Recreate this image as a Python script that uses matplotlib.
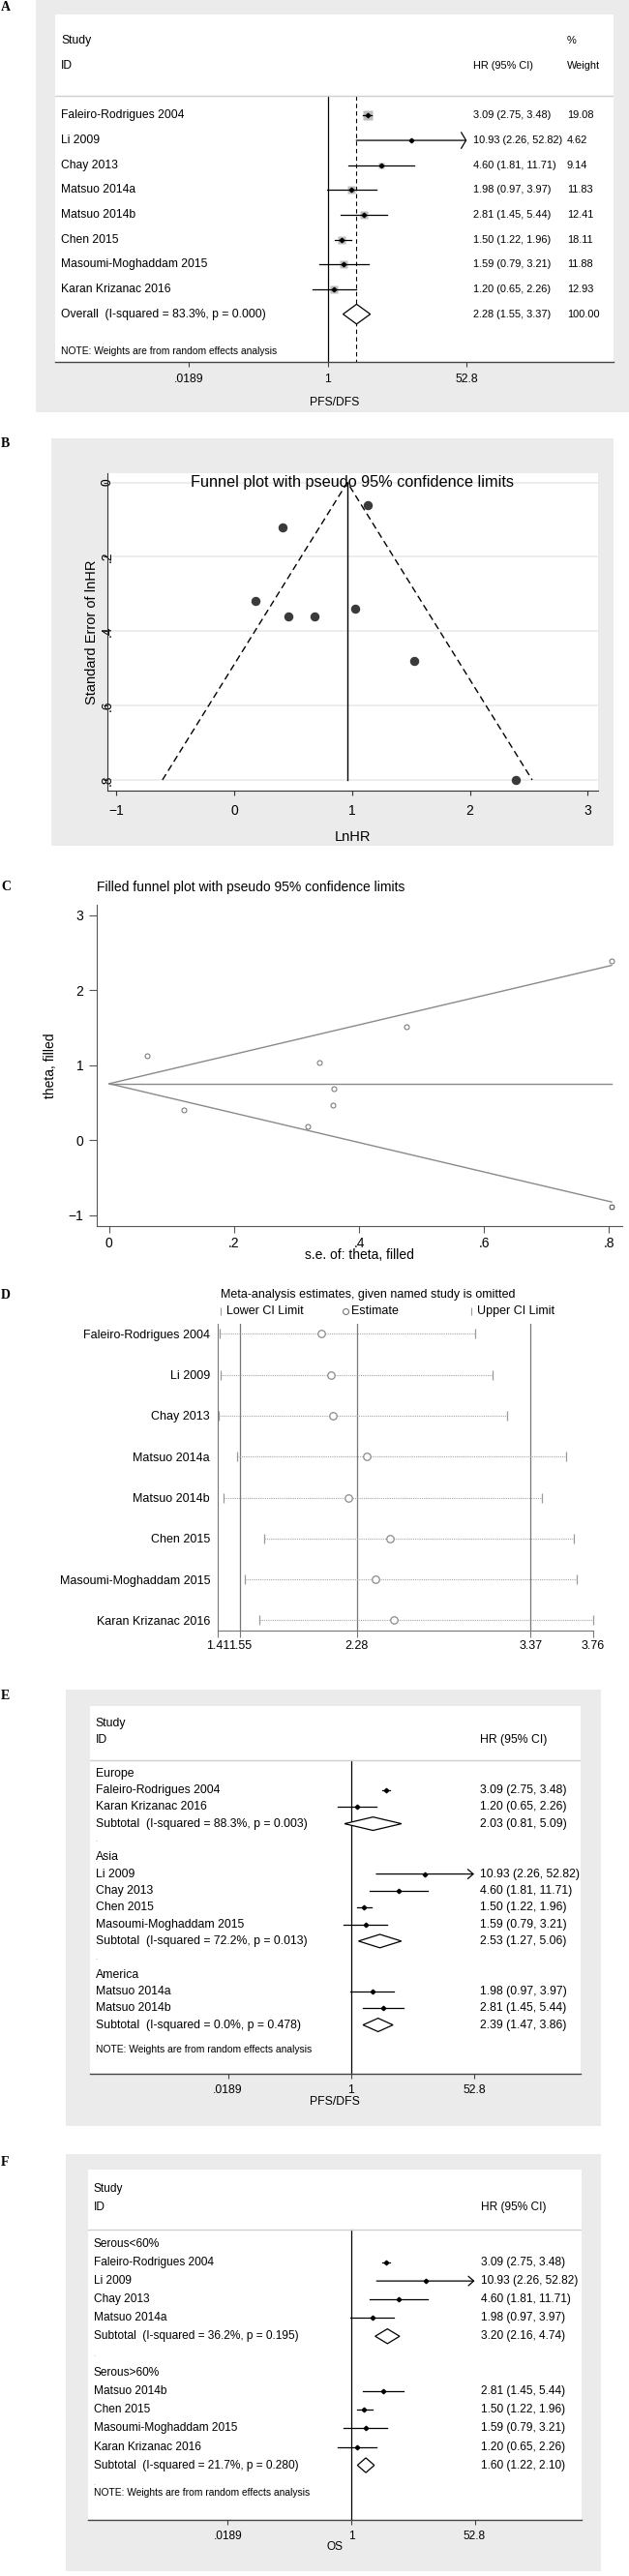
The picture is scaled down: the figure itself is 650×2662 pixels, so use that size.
import numpy as np
import matplotlib.pyplot as plt
from matplotlib.patches import Rectangle, Polygon
from matplotlib.ticker import FixedLocator, NullLocator, FuncFormatter
from matplotlib import transforms

plt.rcParams['font.family'] = ['Liberation Sans', 'DejaVu Sans']

W, H = 650, 2662

# ---- study level data (A, E, F) ----
studies = ['Faleiro-Rodrigues 2004', 'Li 2009', 'Chay 2013', 'Matsuo 2014a',
           'Matsuo 2014b', 'Chen 2015', 'Masoumi-Moghaddam 2015', 'Karan Krizanac 2016']
hr = [3.09, 10.93, 4.60, 1.98, 2.81, 1.50, 1.59, 1.20]
hr_lo = [2.75, 2.26, 1.81, 0.97, 1.45, 1.22, 0.79, 0.65]
hr_hi = [3.48, 52.82, 11.71, 3.97, 5.44, 1.96, 3.21, 2.26]
weight = [19.08, 4.62, 9.14, 11.83, 12.41, 18.11, 11.88, 12.93]
overall = (2.28, 1.55, 3.37)
overall_i2, overall_p = 83.3, 0.000
forest_ticks = [0.0189, 1, 52.8]

# subgroups by region (E)
e_groups = ['Europe', 'Asia', 'America']
e_members = [[0, 7], [1, 2, 5, 6], [3, 4]]
e_sub = [(2.03, 0.81, 5.09), (2.53, 1.27, 5.06), (2.39, 1.47, 3.86)]
e_i2 = [88.3, 72.2, 0.0]
e_p = [0.003, 0.013, 0.478]

# subgroups by serous proportion (F)
f_groups = ['Serous<60%', 'Serous>60%']
f_members = [[0, 1, 2, 3], [4, 5, 6, 7]]
f_sub = [(3.20, 2.16, 4.74), (1.60, 1.22, 2.10)]
f_i2 = [36.2, 21.7]
f_p = [0.195, 0.280]

# funnel plot (B), study order as above
lnhr = [1.13, 2.39, 1.53, 0.68, 1.03, 0.41, 0.46, 0.18]
se_lnhr = [0.06, 0.80, 0.48, 0.36, 0.34, 0.12, 0.36, 0.32]
funnel_center = 0.96
funnel_se_max = 0.8

# filled funnel plot (C)
se_filled = [0.06, 0.804, 0.476, 0.359, 0.337, 0.12, 0.358, 0.318]
theta_filled = [1.13, 2.39, 1.52, 0.69, 1.04, 0.41, 0.47, 0.19]
se_imputed = [0.804]
theta_imputed = [-0.88]
filled_center = 0.755

# leave-one-out sensitivity (D)
loo_est = [2.06, 2.12, 2.13, 2.34, 2.23, 2.49, 2.40, 2.51]
loo_lo = [1.42, 1.43, 1.415, 1.53, 1.445, 1.70, 1.58, 1.67]
loo_hi = [3.02, 3.13, 3.22, 3.59, 3.44, 3.64, 3.66, 3.76]
loo_ref = [1.55, 2.28, 3.37]
loo_ticks = [1.41, 1.55, 2.28, 3.37, 3.76]

fig = plt.figure(figsize=(W / 100, H / 100), dpi=100)
fig.patch.set_facecolor('white')


def rect(l, t, r, b):
    return [l / W, 1 - b / H, (r - l) / W, (b - t) / H]


def grey_box(l, t, r, b):
    fig.add_artist(Rectangle((l / W, 1 - b / H), (r - l) / W, (b - t) / H,
                             transform=fig.transFigure, fc='#ebebeb', ec='none', zorder=-5))


def panel_label(s, y):
    fig.text(1 / W, 1 - y / H, s, family='Liberation Serif', weight='bold',
             fontsize=10, ha='left', va='center')


tick_fmt = FuncFormatter(lambda v, p: ('%g' % v).lstrip('0'))


def forest(r, xlim, ylim, rows, name_x, hr_x, note_y, xlabel, xlabel_y, fs, num_fs=None,
           wt_x=None, overall_line=None, head=(0.4, 0.35), box=False):
    num_fs = num_fs or fs
    ax = fig.add_axes(rect(*r))
    ax.set_facecolor('white')
    ax.set_xscale('log')
    ax.set_xlim(xlim)
    ax.set_ylim(ylim)
    for s in ('top', 'right', 'left'):
        ax.spines[s].set_visible(False)
    ax.spines['bottom'].set_color('#444444')
    ax.spines['bottom'].set_linewidth(1.0)
    ax.set_yticks([])
    ax.xaxis.set_major_locator(FixedLocator(forest_ticks))
    ax.xaxis.set_minor_locator(NullLocator())
    ax.xaxis.set_major_formatter(tick_fmt)
    ax.tick_params(axis='x', length=3.5, color='#444444', labelsize=fs, pad=4.5)
    ax.set_xlabel(xlabel, fontsize=fs, va='center')
    ax.xaxis.set_label_coords(0.5, xlabel_y)
    tr = transforms.blended_transform_factory(ax.transAxes, ax.transData)

    sep = -0.8
    ax.axhline(sep, color='#cfcfcf', lw=1)
    ax.text(name_x, -3, 'Study', transform=tr, fontsize=fs, va='center')
    ax.text(name_x, -2, 'ID', transform=tr, fontsize=fs, va='center')
    ax.text(hr_x, -2, 'HR (95% CI)', transform=tr, fontsize=num_fs, va='center')
    if wt_x is not None:
        ax.text(wt_x, -3, '%', transform=tr, fontsize=num_fs, va='center')
        ax.text(wt_x, -2, 'Weight', transform=tr, fontsize=num_fs, va='center')

    ax.plot([1, 1], [sep, ylim[0]], color='black', lw=0.9, zorder=1)
    if overall_line is not None:
        ax.plot([overall_line, overall_line], [sep, ylim[0]], color='black',
                lw=0.8, ls=(0, (4, 3)), zorder=1)

    xmax = max(forest_ticks)
    for y, (kind, label, est, lo, hi, w) in enumerate(rows):
        if kind == 'blank':
            ax.text(name_x, y, label, transform=tr, fontsize=5, color='#999999', va='center')
            continue
        ax.text(name_x, y, label, transform=tr, fontsize=fs, va='center')
        if kind == 'group':
            continue
        txt = '%.2f (%.2f, %.2f)' % (est, lo, hi)
        ax.text(hr_x, y, txt, transform=tr, fontsize=num_fs, va='center')
        if wt_x is not None and w is not None:
            ax.text(wt_x, y, '%.2f' % w, transform=tr, fontsize=num_fs, va='center')
        if kind == 'study':
            if box:
                ax.plot([est], [y], marker='s', ms=6.6 * np.sqrt(w / max(weight)),
                        color='#bdbdbd', mec='none', zorder=2)
            if hi > xmax:
                ax.annotate('', xy=(xmax, y), xytext=(lo, y),
                            arrowprops=dict(arrowstyle='->,head_length=%g,head_width=%g' % head,
                                            lw=0.9, color='black', shrinkA=0, shrinkB=0,
                                            mutation_scale=10))
            else:
                ax.plot([lo, hi], [y, y], color='black', lw=0.9, zorder=3)
            ax.plot([est], [y], marker='D', ms=2.3, color='black', zorder=4)
        else:
            h = 0.4
            ax.add_patch(Polygon([(lo, y), (est, y - h), (hi, y), (est, y + h)], closed=True,
                                 fc='white', ec='black', lw=0.9, zorder=3))
    ax.text(name_x, note_y, 'NOTE: Weights are from random effects analysis',
            transform=tr, fontsize=7.4, va='center')
    return ax


# ---------------- A ----------------
grey_box(36.5, 0, 650, 426)
panel_label('A', 7.5)
rows_a = [('study', studies[i], hr[i], hr_lo[i], hr_hi[i], weight[i]) for i in range(len(studies))]
rows_a.append(('overall', 'Overall  (I-squared = %.1f%%, p = %.3f)' % (overall_i2, overall_p),
               overall[0], overall[1], overall[2], sum(weight)))
forest((57, 15, 633.5, 374.4), (4.2e-4, 3430), (9.94, -4.07), rows_a,
       0.0104, 0.749, 9.49, 'PFS/DFS', -0.1157, 8.7, num_fs=7.9, wt_x=0.9176,
       overall_line=overall[0], head=(0.36, 0.6), box=True)

# ---------------- B ----------------
grey_box(53, 452.7, 633.5, 874)
panel_label('B', 459)
axb = fig.add_axes(rect(111, 489.3, 617.7, 816.7))
axb.set_facecolor('white')
axb.set_xlim(-1.075, 3.084)
axb.set_ylim(0.828, -0.024)
for s in ('top', 'right'):
    axb.spines[s].set_visible(False)
for s in ('left', 'bottom'):
    axb.spines[s].set_color('#333333')
axb.set_axisbelow(True)
axb.grid(axis='y', color='#e8e8e8', lw=1.1)
axb.set_xticks([-1, 0, 1, 2, 3])
yt = [0, 0.2, 0.4, 0.6, 0.8]
axb.set_yticks(yt, labels=[('%g' % v).lstrip('0') or '0' for v in yt],
               rotation=90, ha='center', va='center')
axb.tick_params(axis='y', length=3, pad=-3, labelsize=10, color='#333333')
axb.tick_params(axis='x', length=3.6, pad=6.5, labelsize=10, color='#333333')
lo_end = funnel_center - 1.96 * funnel_se_max
hi_end = funnel_center + 1.96 * funnel_se_max
axb.plot([lo_end, funnel_center, hi_end], [funnel_se_max, 0, funnel_se_max],
         color='black', lw=1.0, ls=(0, (5, 3)))
axb.plot([funnel_center, funnel_center], [0, funnel_se_max], color='black', lw=1.0)
axb.plot(lnhr, se_lnhr, 'o', ms=5.8, color='#3a3a3a', zorder=5)
axb.text(0.5, 0, 'Funnel plot with pseudo 95% confidence limits', fontsize=11.7,
         ha='center', va='center',
         transform=transforms.blended_transform_factory(axb.transAxes, axb.transData))
axb.set_xlabel('LnHR', fontsize=10.5, va='center')
axb.xaxis.set_label_coords(0.5, -0.1484)
axb.set_ylabel('Standard Error of lnHR', fontsize=10.5, va='center')
axb.yaxis.set_label_coords(-0.0308, 0.5)

# ---------------- C ----------------
panel_label('C', 916.7)
axc = fig.add_axes(rect(100.3, 935, 642.6, 1266.7))
axc.set_xlim(-0.0193, 0.8204)
axc.set_ylim(-1.138, 3.138)
for s in ('top', 'right'):
    axc.spines[s].set_visible(False)
for s in ('left', 'bottom'):
    axc.spines[s].set_color('#555555')
xt = [0, 0.2, 0.4, 0.6, 0.8]
axc.set_xticks(xt, labels=[('%g' % v).lstrip('0') or '0' for v in xt])
axc.set_yticks([-1, 0, 1, 2, 3])
axc.tick_params(axis='y', length=5.8, pad=4.2, labelsize=10, color='#555555')
axc.tick_params(axis='x', length=4.8, pad=3.6, labelsize=10, color='#555555')
se_max = max(se_filled)
axc.plot([0, se_max], [filled_center, filled_center], color='#8a8a8a', lw=1.0)
axc.plot([0, se_max], [filled_center, filled_center + 1.96 * se_max], color='#8a8a8a', lw=1.0)
axc.plot([0, se_max], [filled_center, filled_center - 1.96 * se_max], color='#8a8a8a', lw=1.0)
axc.plot(se_filled, theta_filled, 'o', ms=3.6, mfc='none', mec='#6e6e6e', mew=0.7)
axc.plot(se_imputed, theta_imputed, 'o', ms=3.6, mfc='none', mec='#6e6e6e', mew=0.7)
axc.plot(se_imputed, theta_imputed, 's', ms=3.4, mfc='none', mec='#6e6e6e', mew=0.7)
axc.text(0, 1.0534, 'Filled funnel plot with pseudo 95% confidence limits', fontsize=10,
         ha='left', va='center', transform=axc.transAxes)
axc.set_xlabel('s.e. of: theta, filled', fontsize=10, va='center')
axc.xaxis.set_label_coords(0.5, -0.0904)
axc.set_ylabel('theta, filled', fontsize=10, va='center')
axc.yaxis.set_label_coords(-0.0894, 0.5)

# ---------------- D ----------------
panel_label('D', 1338.3)
axd = fig.add_axes(rect(225.1, 1368.3, 612.8, 1685))
axd.set_xlim(min(loo_ticks), max(loo_ticks))
axd.set_ylim(7.25, -0.236)
for s in ('top', 'right'):
    axd.spines[s].set_visible(False)
for s in ('left', 'bottom'):
    axd.spines[s].set_color('#777777')
axd.set_xticks(loo_ticks, labels=['%.2f' % v for v in loo_ticks])
axd.set_yticks(range(len(studies)), labels=studies)
axd.tick_params(axis='y', length=0, pad=5.8, labelsize=9)
axd.tick_params(axis='x', length=4.8, pad=2.3, labelsize=9, color='#777777')
for v in loo_ref:
    axd.axvline(v, color='#777777', lw=0.9)
ypos = np.arange(len(studies))
axd.hlines(ypos, loo_lo, loo_hi, colors='#a8a8a8', lw=0.8, linestyles=(0, (1, 1)))
axd.plot(loo_lo, ypos, '|', ms=7.5, mew=0.9, color='#9a9a9a', clip_on=False)
axd.plot(loo_hi, ypos, '|', ms=7.5, mew=0.9, color='#9a9a9a', clip_on=False)
axd.plot(loo_est, ypos, 'o', ms=5.4, mfc='white', mec='#8a8a8a', mew=0.9, zorder=5)
axd.text(0.0075, 1.0947, 'Meta-analysis estimates, given named study is omitted',
         fontsize=9, ha='left', va='center', transform=axd.transAxes)
leg_items = [('|', 'Lower CI Limit'), ('o', 'Estimate'), ('|', 'Upper CI Limit')]
leg_x = [0.0075, 0.339, 0.6755]
for (mk, lab), lx in zip(leg_items, leg_x):
    if mk == 'o':
        axd.plot([lx], [1.042], 'o', ms=4.3, mfc='none', mec='#777777', mew=0.8,
                 transform=axd.transAxes, clip_on=False)
    else:
        axd.plot([lx], [1.042], '|', ms=5.5, mew=0.8, color='#999999',
                 transform=axd.transAxes, clip_on=False)
    axd.text(lx + 0.016, 1.042, lab, fontsize=9, ha='left', va='center', transform=axd.transAxes)


def subgroup_rows(groups, members, subs, i2s, ps):
    rows = []
    for g, name in enumerate(groups):
        rows.append(('group', name, None, None, None, None))
        for i in members[g]:
            rows.append(('study', studies[i], hr[i], hr_lo[i], hr_hi[i], weight[i]))
        est, lo, hi = subs[g]
        rows.append(('sub', 'Subtotal  (I-squared = %.1f%%, p = %.3f)' % (i2s[g], ps[g]),
                     est, lo, hi, None))
        rows.append(('blank', '.', None, None, None, None))
    return rows


# ---------------- E ----------------
grey_box(68.4, 1746, 620.6, 2197.3)
panel_label('E', 1752.7)
rows_e = subgroup_rows(e_groups, e_members, e_sub, e_i2, e_p)
forest((92.5, 1763.3, 600, 2143.3), (2.18e-4, 1636), (17.93, -4.0), rows_e,
       0.0122, 0.7957, 16.45, 'PFS/DFS', -0.0747, 8.8)

# ---------------- F ----------------
grey_box(68.4, 2226, 620.6, 2656.7)
panel_label('F', 2234.3)
rows_f = subgroup_rows(f_groups, f_members, f_sub, f_i2, f_p)
forest((91.2, 2242.3, 601.2, 2604.3), (2.14e-4, 1650), (14.98, -4.03), rows_f,
       0.0106, 0.795, 13.5, 'OS', -0.0765, 8.6)

fig.savefig('out.png', dpi=100)
